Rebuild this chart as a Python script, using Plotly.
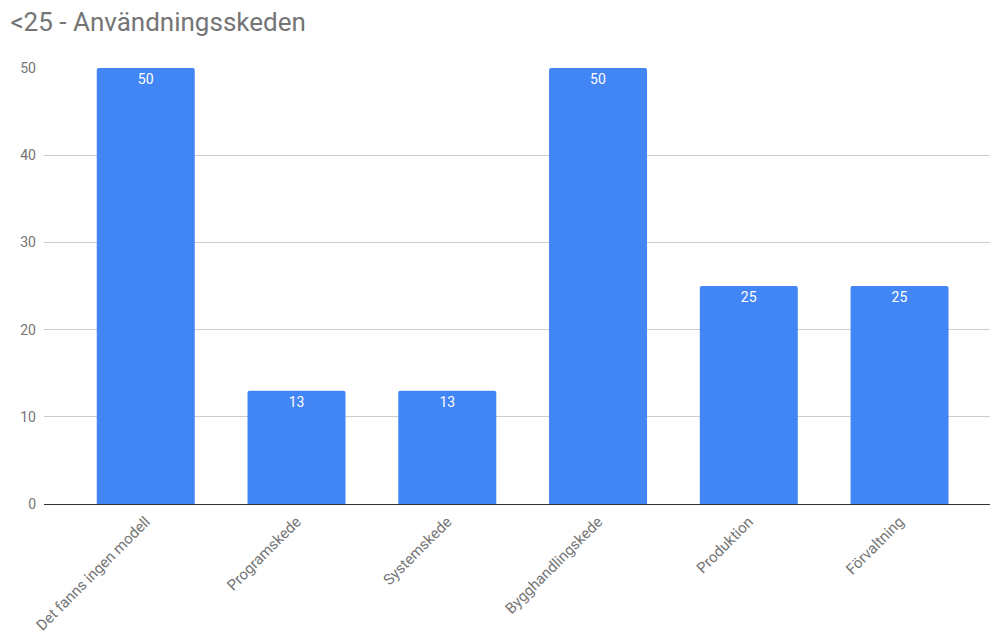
import plotly.graph_objects as go

# Chart data
categories = ["Det fanns ingen modell", "Programskede", "Systemskede",
              "Bygghandlingskede", "Produktion", "Förvaltning"]
values = [50, 13, 13, 50, 25, 25]
y_ticks = [0, 10, 20, 30, 40, 50]

BAR_COLOR = "#4285F4"
TEXT_GREY = "#757575"
FONT = "Roboto"

fig = go.Figure(
    go.Bar(
        x=list(range(len(categories))),
        y=values,
        width=0.65,
        marker=dict(color=BAR_COLOR, line=dict(width=0), cornerradius=2),
        text=[str(v) for v in values],
        textposition="inside",
        insidetextanchor="end",
        textfont=dict(family=FONT, size=14, color="white"),
        cliponaxis=False,
    )
)

fig.update_layout(
    width=992,
    height=635,
    paper_bgcolor="white",
    plot_bgcolor="white",
    margin=dict(l=44, r=2, t=68, b=131),
    showlegend=False,
    font=dict(family=FONT, color=TEXT_GREY),
    title=dict(
        text="<25 - Användningsskeden",
        x=0.0105, xanchor="left",
        y=0.965, yanchor="middle",
        font=dict(family=FONT, size=26, color=TEXT_GREY),
    ),
    uniformtext=dict(mode=False),
)

fig.update_xaxes(
    range=[-0.675, 5.6],
    tickmode="array",
    tickvals=list(range(len(categories))),
    ticktext=categories,
    tickangle=-45,
    tickfont=dict(family=FONT, size=15, color=TEXT_GREY),
    showgrid=False,
    showline=False,
    ticks="",
    zeroline=False,
    ticklabelstandoff=5,
    automargin=False,
)

fig.update_yaxes(
    range=[0, 50],
    tickmode="array",
    tickvals=y_ticks,
    ticktext=[str(t) for t in y_ticks],
    tickfont=dict(family=FONT, size=14, color=TEXT_GREY),
    showgrid=True,
    gridcolor="#CCCCCC",
    gridwidth=1,
    zeroline=True,
    zerolinecolor="#333333",
    zerolinewidth=1,
    ticks="",
    ticklabelstandoff=7,
    automargin=False,
)

fig.write_html("out.html")
